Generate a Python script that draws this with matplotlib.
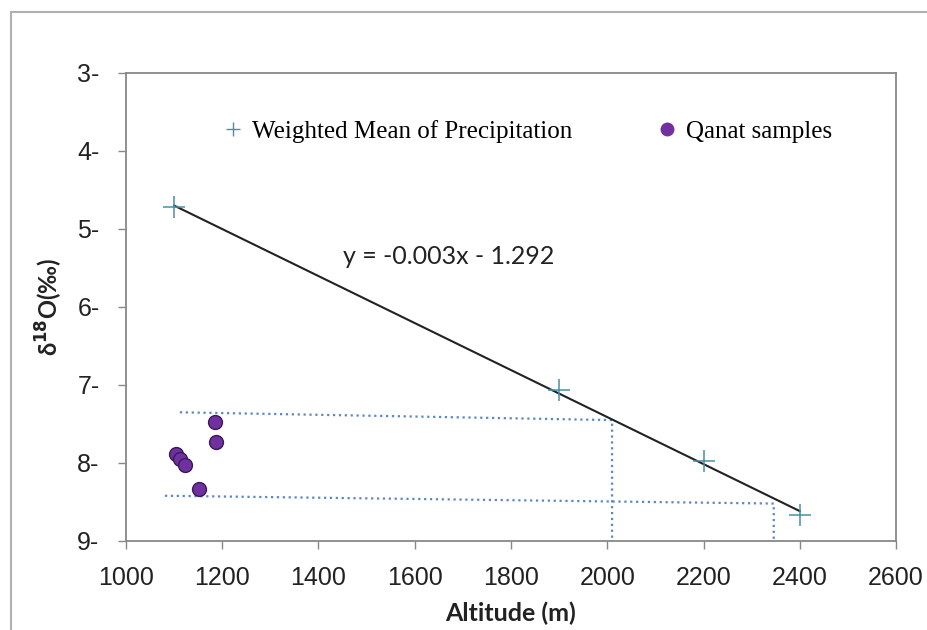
import numpy as np
import matplotlib
matplotlib.use('Agg')
import matplotlib.pyplot as plt
from matplotlib.lines import Line2D
from matplotlib.patches import Rectangle

# weighted mean of precipitation (altitude m, delta18O permil, shown positive)
precip_alt = [1100, 1900, 2200, 2400]
precip_d18o = [4.72, 7.07, 7.98, 8.67]

# qanat samples
qanat_alt = [1185, 1188, 1104, 1113, 1122, 1152]
qanat_d18o = [7.47, 7.73, 7.89, 7.95, 8.03, 8.33]

# dotted guide lines
guide_upper_x = [1112, 2010, 2010]
guide_upper_y = [7.35, 7.45, 9.0]
guide_lower_x = [1081, 2346, 2346]
guide_lower_y = [8.42, 8.52, 9.0]

x_ticks = [1000, 1200, 1400, 1600, 1800, 2000, 2200, 2400, 2600]
y_ticks = [3, 4, 5, 6, 7, 8, 9]

fig = plt.figure(figsize=(9.27, 6.3), dpi=100)
fig.patch.set_facecolor('white')
# outer frame of the original picture
fig.patches.append(Rectangle((11 / 927, -0.1), 1.2, 1 - 12 / 630 + 0.1,
                             transform=fig.transFigure, fill=False,
                             edgecolor='#b0b0b0', lw=1.5))

ax = fig.add_axes([126 / 927, 1 - 541 / 630, (896 - 126) / 927, (541 - 73) / 630])

ax.plot(guide_upper_x, guide_upper_y, ls=':', color='#5b87c5', lw=1.6)
ax.plot(guide_lower_x, guide_lower_y, ls=':', color='#5b87c5', lw=1.6)

# linear trend through precipitation points
k, b = np.polyfit(precip_alt, precip_d18o, 1)
xl = np.array([precip_alt[0], precip_alt[-1]])
ax.plot(xl, k * xl + b, color='#222222', lw=1.5)

ax.plot(precip_alt, precip_d18o, ls='none', marker='+', ms=16, mew=1.1,
        color='#4a8fa5')
ax.plot(qanat_alt, qanat_d18o, ls='none', marker='o', ms=10,
        markerfacecolor='#7030a0', markeredgecolor='#3a1a55', mew=1)

ax.set_xlim(1000, 2600)
ax.set_ylim(9, 3)
ax.set_xticks(x_ticks)
ax.set_xticklabels([str(v) for v in x_ticks], fontsize=18,
                   family='Liberation Sans', color='#222222')
ax.set_yticks(y_ticks)
ax.set_yticklabels([f'{v}-' for v in y_ticks], fontsize=18,
                   family='Liberation Sans', color='#222222')
ax.tick_params(axis='both', direction='out', length=6, width=1,
               color='#888888')
ax.tick_params(axis='y', pad=13)
ax.tick_params(axis='x', pad=12)
for s in ax.spines.values():
    s.set_color('#888888')
    s.set_linewidth(1.3)

ax.set_xlabel('Altitude (m)', fontsize=18, fontweight='bold', family='Lato',
              color='#222222', labelpad=8)
ax.set_ylabel(r'δ$^{\mathbf{18}}$O(‰)', fontsize=17, fontweight='bold',
              family='Lato', color='#222222', labelpad=9)

ax.text(1450, 5.35, 'y = -0.003x - 1.292', fontsize=18, family='Lato',
        color='#222222', ha='left', va='center')

handles = [Line2D([], [], ls='none', marker='+', ms=10, mew=1, color='#4a8fa5'),
           Line2D([], [], ls='none', marker='o', ms=9,
                  markerfacecolor='#7030a0', markeredgecolor='#7030a0')]
ax.legend(handles, ['Weighted Mean of Precipitation', 'Qanat samples'],
          ncol=2, frameon=False, loc='center left',
          bbox_to_anchor=(0.093, 0.876), handlelength=1.0,
          handletextpad=0.26, columnspacing=3.3,
          prop={'family': 'Liberation Serif', 'size': 18})

fig.savefig('out.png', dpi=100)
